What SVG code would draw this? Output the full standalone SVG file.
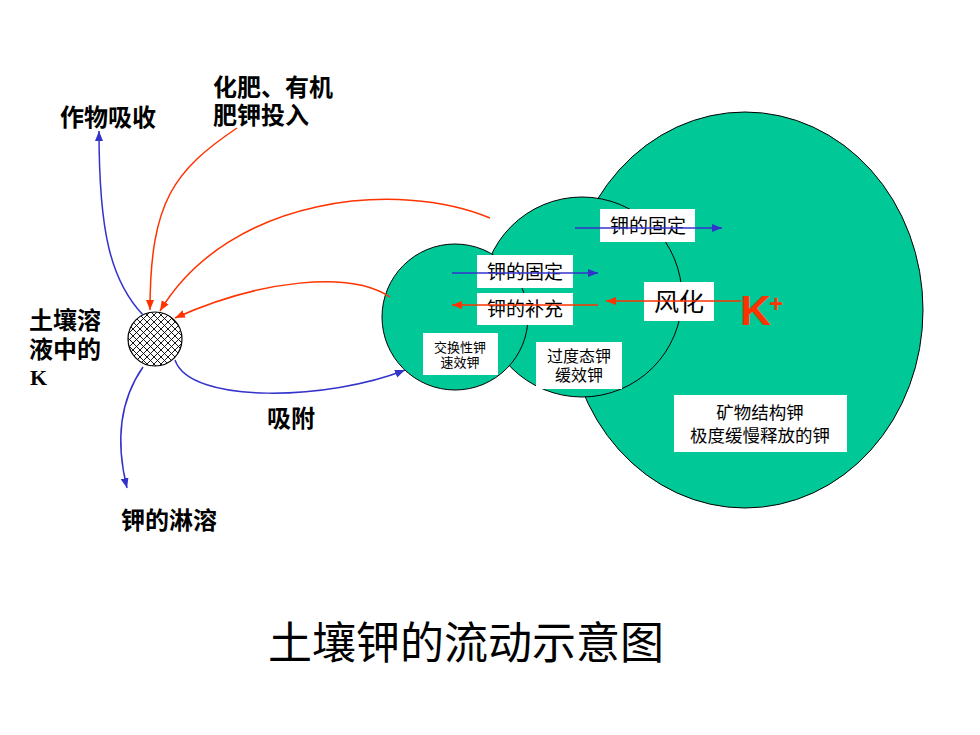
<svg xmlns="http://www.w3.org/2000/svg" width="980" height="735" viewBox="0 0 980 735">
<defs>
<style>
.lbl{font-family:"Noto Sans CJK SC","Noto Sans",sans-serif;font-weight:bold;font-size:24px;fill:#000;}
.box{fill:#fff;stroke:none;}
.bt{font-family:"Noto Sans CJK SC","Noto Sans",sans-serif;fill:#000;text-anchor:middle;}
.pool{fill:#00C896;stroke:#000;stroke-width:1;}
.bl{fill:none;stroke:#3333CC;stroke-width:1.5;}
.rd{fill:none;stroke:#FF3300;stroke-width:1.5;}
</style>
<pattern id="hatch" patternUnits="userSpaceOnUse" width="7" height="7">
<rect width="7" height="7" fill="#fff"/>
<path d="M0,0 L7,7 M7,0 L0,7 M-1,6 L1,8 M6,-1 L8,1 M-1,1 L1,-1 M6,8 L8,6" stroke="#000" stroke-width="0.9"/>
</pattern>
<marker id="ab" markerUnits="userSpaceOnUse" markerWidth="12" markerHeight="10" refX="10" refY="4" orient="auto">
<path d="M0,0 L10,4 L0,8 Z" fill="#3333CC"/>
</marker>
<marker id="ar" markerUnits="userSpaceOnUse" markerWidth="12" markerHeight="10" refX="10" refY="4" orient="auto">
<path d="M0,0 L10,4 L0,8 Z" fill="#FF3300"/>
</marker>
</defs>
<rect width="980" height="735" fill="#fff"/>

<g id="mineral">
<ellipse class="pool" cx="745" cy="310" rx="178" ry="198"/>
</g>
<g id="slow">
<circle class="pool" cx="582" cy="297" r="100"/>
</g>
<g id="exchange">
<circle class="pool" cx="455" cy="317" r="73"/>
</g>
<g id="solution">
<circle cx="155" cy="339" r="27" fill="url(#hatch)" stroke="#000" stroke-width="1.2"/>
</g>

<g id="connectors">
<path class="bl" d="M143,315 C110,280 99,230 99,131" marker-end="url(#ab)"/>
<path class="rd" d="M237,128 C175,170 150,200 150,310" marker-end="url(#ar)"/>
<path class="rd" d="M490,218 C400,180 230,195 160,311" marker-end="url(#ar)"/>
<path class="rd" d="M390,297 C350,270 260,280 175,318" marker-end="url(#ar)"/>
<path class="bl" d="M175,360 C190,405 330,400 405,370" marker-end="url(#ab)"/>
<path class="bl" d="M143,367 C120,400 115,440 127,488" marker-end="url(#ab)"/>
</g>

<g id="label-fix1">
<rect class="box" x="600" y="209" width="95" height="33"/>
<text class="bt" x="648" y="233" font-size="19">钾的固定</text>
</g>
<g id="label-fix2">
<rect class="box" x="477" y="255" width="96" height="33"/>
<text class="bt" x="525" y="279" font-size="19">钾的固定</text>
</g>
<g id="label-supply">
<rect class="box" x="477" y="293" width="96" height="32"/>
<text class="bt" x="525" y="316" font-size="19">钾的补充</text>
</g>
<g id="label-weather">
<rect class="box" x="644" y="282" width="70" height="39"/>
<text class="bt" x="679" y="311" font-size="25">风化</text>
</g>
<g id="label-exchange">
<rect class="box" x="423" y="333" width="75" height="42"/>
<text class="bt" x="460" y="352" font-size="13">交换性钾</text>
<text class="bt" x="460" y="367" font-size="13">速效钾</text>
</g>
<g id="label-slow">
<rect class="box" x="536" y="342" width="86" height="47"/>
<text class="bt" x="579" y="362" font-size="16">过度态钾</text>
<text class="bt" x="579" y="381" font-size="16">缓效钾</text>
</g>
<g id="label-mineral">
<rect class="box" x="674" y="395" width="173" height="57"/>
<text class="bt" x="760" y="419" font-size="17.5">矿物结构钾</text>
<text class="bt" x="760" y="442" font-size="17.5">极度缓慢释放的钾</text>
</g>

<g id="inner-arrows">
<path class="bl" d="M575,228 L722,228" marker-end="url(#ab)"/>
<path class="bl" d="M452,273 L598,273" marker-end="url(#ab)"/>
<path class="rd" d="M598,305 L452,305" marker-end="url(#ar)"/>
<path class="rd" d="M741,301 L606,301" marker-end="url(#ar)"/>
</g>

<g id="kplus">
<text x="740" y="325" font-family="Liberation Sans, Arial, sans-serif" font-weight="bold" font-size="43" fill="#FF3300">K</text>
<text x="769" y="312" font-family="Liberation Sans, Arial, sans-serif" font-weight="bold" font-size="24" fill="#FF3300">+</text>
</g>

<g id="crop">
<text class="lbl" x="60" y="126">作物吸收</text>
</g>
<g id="fertilizer">
<text class="lbl" x="213" y="96">化肥、有机</text>
<text class="lbl" x="213" y="124">肥钾投入</text>
</g>
<g id="solution-label">
<text class="lbl" x="29" y="329">土壤溶</text>
<text class="lbl" x="29" y="358">液中的</text>
<text x="30" y="385" font-family="Liberation Serif, serif" font-weight="bold" font-size="22" fill="#000">K</text>
</g>
<g id="adsorb">
<text class="lbl" x="267" y="427">吸附</text>
</g>
<g id="leach">
<text class="lbl" x="121" y="529">钾的淋溶</text>
</g>

<text x="466" y="659" text-anchor="middle" font-family="Noto Sans CJK SC, sans-serif" font-size="44" fill="#000">土壤钾的流动示意图</text>
</svg>
